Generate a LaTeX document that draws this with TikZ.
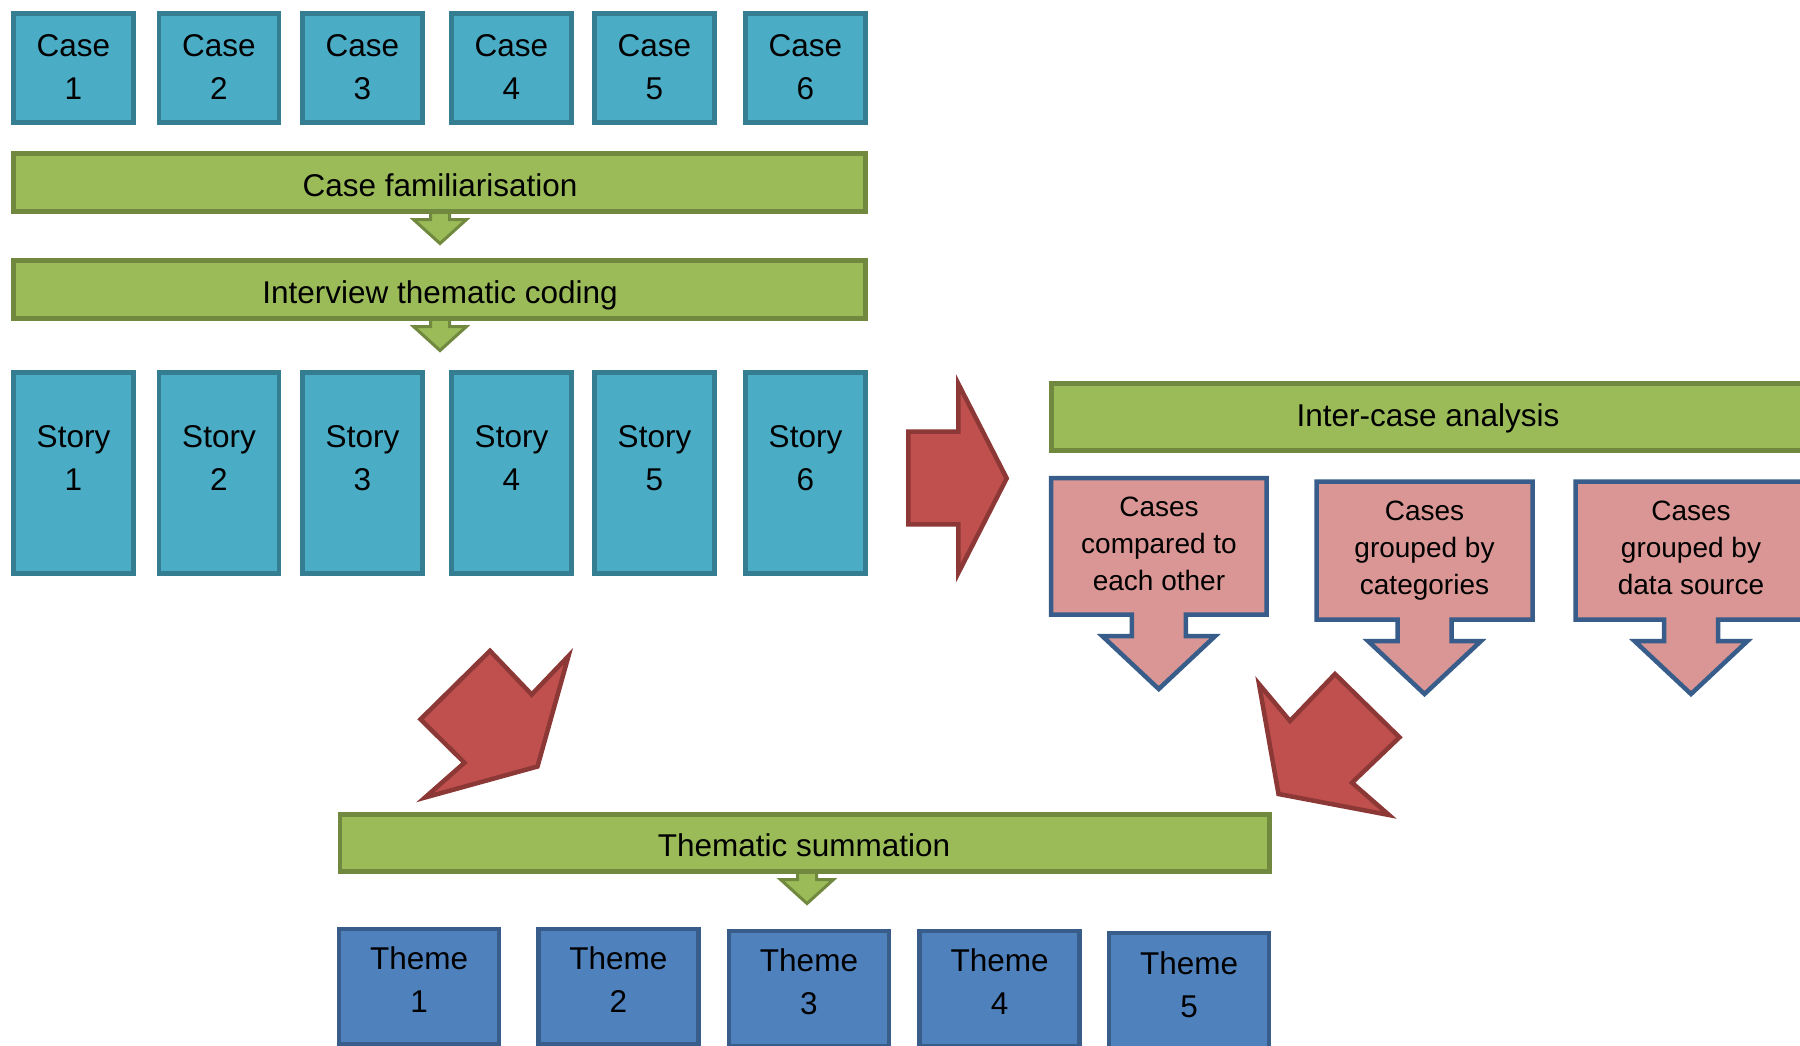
\documentclass[tikz,border=0pt]{standalone}
\usepackage{fontspec}
\setmainfont{Liberation Sans}
\usetikzlibrary{backgrounds}

\definecolor{tealfill}{HTML}{4BACC6}
\definecolor{tealline}{HTML}{357D91}
\definecolor{greenfill}{HTML}{9BBB59}
\definecolor{greenline}{HTML}{71893F}
\definecolor{pinkfill}{HTML}{D99694}
\definecolor{blueline}{HTML}{385D8A}
\definecolor{redfill}{HTML}{C0504D}
\definecolor{redline}{HTML}{8C3836}
\definecolor{themefill}{HTML}{4F81BD}

\begin{document}
\begin{tikzpicture}[x=1pt, y=-1pt, line join=miter,
  casebox/.style={draw=tealline, fill=tealfill, line width=4.5pt, inner sep=0,
    minimum width=120pt},
  themebox/.style={draw=blueline, fill=themefill, line width=4.5pt, inner sep=0,
    minimum width=160pt, minimum height=115pt},
  bar/.style={draw=greenline, fill=greenfill, line width=4.5pt, inner sep=0},
  bigtext/.style={inner sep=0, align=center, font=\fontsize{31.5}{43}\selectfont},
  smalltext/.style={inner sep=0, align=center, font=\fontsize{28}{37}\selectfont},
  bigarrow/.style={draw=redline, fill=redfill, line width=4.5pt},
  callout/.style={draw=blueline, fill=pinkfill, line width=4.5pt},
  pics/greenarrow/.style={code={
    \draw[draw=greenline, fill=greenfill, line width=3pt]
      (-9.5,-6) -- (-9.5,5.5) -- (-26.5,5.5) -- (0,29.5) -- (26.5,5.5)
      -- (9.5,5.5) -- (9.5,-6) -- cycle;}},
  pics/downcallout/.style n args={2}{code={
    \draw[callout]
      (-#1,0) -- (#1,0) -- (#1,#2) -- (27,#2) -- (27,#2+21.5) -- (56.5,#2+21.5)
      -- (0,#2+74.5) -- (-56.5,#2+21.5) -- (-27,#2+21.5) -- (-27,#2)
      -- (-#1,#2) -- cycle;}}]

\useasboundingbox (0,0) rectangle (1800,1045);
\clip (0,0) rectangle (1800,1045);

% ---- cases ----
\foreach \i/\cx in {1/73.5, 2/219, 3/362.5, 4/511.5, 5/654.5, 6/805.5} {
  \node[casebox, minimum height=109pt] (case\i) at (\cx,68) {};
  \node[bigtext, anchor=north] (case\i text) at (\cx,34.8) {Case\\\i};
}

% ---- processing bars ----
\node[bar, minimum width=852pt, minimum height=58pt] (famil) at (439.5,182.5) {};
\node[bigtext, anchor=base] (famil text) at (440,196.8) {Case familiarisation};
\node[bar, minimum width=852pt, minimum height=58pt] (coding) at (439.5,289.5) {};
\node[bigtext, anchor=base] (coding text) at (440,303.8) {Interview thematic coding};

\begin{scope}[on background layer]
  \pic at (440,214) {greenarrow};
  \pic at (440,321) {greenarrow};
  \pic at (807,874) {greenarrow};
\end{scope}

% ---- stories ----
\foreach \i/\cx in {1/73.5, 2/219, 3/362.5, 4/511.5, 5/654.5, 6/805.5} {
  \node[casebox, minimum height=201pt] (story\i) at (\cx,473) {};
  \node[bigtext, anchor=north] (story\i text) at (\cx,425.3) {Story\\\i};
}

% ---- step arrows ----
\draw[bigarrow] (908.3,431.7) -- (958.3,431.7) -- (958.3,383.7) -- (1006.7,478.3)
  -- (958.3,573) -- (958.3,524.3) -- (908.3,524.3) -- cycle;
\draw[bigarrow] (490,650.8) -- (531.7,694.5) -- (568.5,656) -- (537.5,766.5)
  -- (425,797.5) -- (464.5,762.7) -- (420.5,719.3) -- cycle;
\draw[bigarrow] (1259,684) -- (1290,721) -- (1335,674) -- (1399.5,737.3)
  -- (1352,782.7) -- (1389,815) -- (1278.5,794) -- cycle;

% ---- inter-case analysis ----
\node[bar, minimum width=753.5pt, minimum height=67pt] (inter) at (1428.25,417) {};
\node[bigtext, anchor=base] (inter text) at (1428,426) {Inter-case analysis};

\pic at (1158.75,478) {downcallout={107.75}{136.5}};
\node[smalltext, anchor=north] (compared) at (1159,497) {Cases\\compared to\\each other};
\pic at (1424.5,481.5) {downcallout={108}{138}};
\node[smalltext, anchor=north] (categories) at (1424.5,501) {Cases\\grouped by\\categories};
\pic at (1691,481.5) {downcallout={115.5}{138}};
\node[smalltext, anchor=north] (source) at (1691,501) {Cases\\grouped by\\data source};

% ---- thematic summation ----
\node[bar, minimum width=929.5pt, minimum height=57.3pt] (summ) at (804.75,842.9) {};
\node[bigtext, anchor=base] (summ text) at (804,856.7) {Thematic summation};

\foreach \i/\cx/\ty/\tt in {1/419.2/926.5/946.5, 2/618.4/926.5/946.5, 3/809/928.5/948.5,
                           4/999.7/928.5/948.5, 5/1189.2/930.5/951} {
  \node[themebox, anchor=north] (theme\i) at (\cx,\ty) {};
  \node[bigtext, anchor=north] (theme\i text) at (\cx,\tt) {Theme\\\i};
}
\end{tikzpicture}
\end{document}
